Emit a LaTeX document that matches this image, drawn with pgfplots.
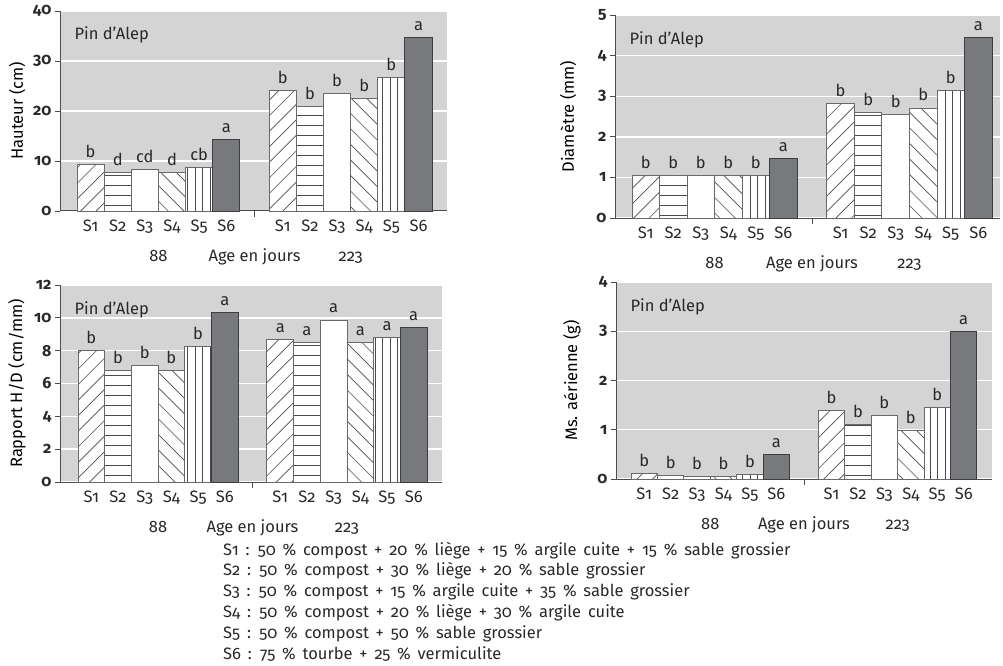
\documentclass[border=0pt]{standalone}
\usepackage{fontspec}
\setmainfont{Fira Sans}[Numbers=OldStyle]
\usepackage{pgfplots}
\pgfplotsset{compat=1.18}
\usetikzlibrary{patterns.meta}

\definecolor{bggray}{RGB}{212,212,213}
\definecolor{darkbar}{RGB}{120,121,125}
\definecolor{darkedge}{RGB}{62,62,64}
\definecolor{baredge}{RGB}{105,105,105}
\definecolor{hatch}{RGB}{75,75,75}
\definecolor{axisline}{RGB}{75,75,75}
\definecolor{ink}{RGB}{40,40,40}

\pgfplotsset{
  panel/.style={
    scale only axis, anchor=south west,
    ybar, bar width=1,
    ymin=0,
    axis x line*=bottom, axis y line*=left,
    axis line style={draw=axisline, line width=1pt},
    axis background/.style={fill=bggray},
    ymajorgrids, grid style={white, line width=1.4pt},
    tick align=outside, major tick length=5pt, minor tick length=6pt,
    xtick={1,2,3,4,5,6,8.08,9.08,10.08,11.08,12.08,13.08},
    xticklabels={S1,S2,S3,S4,S5,S6,S1,S2,S3,S4,S5,S6},
    minor xtick={7.04},
    every major x tick/.append style={draw=none},
    every minor x tick/.append style={draw=axisline, line width=0.8pt},
    ytick style={draw=axisline, line width=0.8pt},
    yticklabel style={font=\fontsize{16}{19}\selectfont\bfseries, text=ink},
    xticklabel style={text=ink},
    /pgf/number format/assume math mode=true,
    point meta=explicit symbolic,
    nodes near coords,
    nodes near coords style={text=ink, yshift=3pt},
    clip=false,
    ylabel style={text=ink},
  },
  s1/.style={fill=white, draw=baredge, line width=0.9pt, bar shift=0pt,
    postaction={pattern={Lines[angle=45,distance=11pt,line width=0.65pt]}, pattern color=hatch}},
  s2/.style={fill=white, draw=baredge, line width=0.9pt, bar shift=0pt,
    postaction={pattern={Lines[angle=0,distance=10pt,line width=0.65pt]}, pattern color=hatch}},
  s3/.style={fill=white, draw=baredge, line width=0.9pt, bar shift=0pt},
  s4/.style={fill=white, draw=baredge, line width=0.9pt, bar shift=0pt,
    postaction={pattern={Lines[angle=-45,distance=11pt,line width=0.65pt]}, pattern color=hatch}},
  s5/.style={fill=white, draw=baredge, line width=0.9pt, bar shift=0pt,
    postaction={pattern={Lines[angle=90,distance=7.5pt,line width=0.65pt]}, pattern color=hatch}},
  s6/.style={fill=darkbar, draw=darkedge, line width=0.9pt, bar shift=0pt},
}

% group captions under each panel
\newcommand{\agecaption}{%
  \node[anchor=base, text=ink] at (axis cs:3.5,0) [yshift=-50pt] {88};
  \node[anchor=base, text=ink] at (axis cs:7.04,0) [yshift=-50pt] {Age en jours};
  \node[anchor=base, text=ink] at (axis cs:10.58,0) [yshift=-50pt] {223};
  \node[anchor=base west, text=ink] at (rel axis cs:0,1) [xshift=11pt, yshift=-29pt] {Pin d’Alep};
}

\begin{document}
\begin{tikzpicture}[font=\fontsize{16.5}{20}\selectfont, x=1pt, y=1pt]
\path[use as bounding box] (0,0) rectangle (1003,665);

% Hauteur
\begin{axis}[panel, at={(60pt,454pt)}, width=387pt, height=200pt,
  xmin=-0.125, xmax=14.13, ymax=40, ytick={0,10,20,30,40},
  ylabel={Hauteur (cm)},
  every axis y label/.style={at={(axis description cs:-0.111,0.5)}, rotate=90, anchor=center}]
\addplot[s1] coordinates {(1,9.3)[b] (8.08,24.1)[b]};
\addplot[s2] coordinates {(2,7.7)[d] (9.08,20.9)[b]};
\addplot[s3] coordinates {(3,8.3)[cd] (10.08,23.5)[b]};
\addplot[s4] coordinates {(4,7.7)[d] (11.08,22.5)[b]};
\addplot[s5] coordinates {(5,8.7)[cb] (12.08,26.7)[b]};
\addplot[s6] coordinates {(6,14.3)[a] (13.08,34.7)[a]};
\agecaption
\end{axis}

% Diametre
\begin{axis}[panel, at={(615pt,447pt)}, width=385pt, height=203pt,
  xmin=-0.118, xmax=13.87, ymax=5, ytick={0,1,2,3,4,5},
  ylabel={Diamètre (mm)},
  every axis y label/.style={at={(axis description cs:-0.122,0.5)}, rotate=90, anchor=center}]
\addplot[s1] coordinates {(1,1.05)[b] (8.08,2.83)[b]};
\addplot[s2] coordinates {(2,1.05)[b] (9.08,2.60)[b]};
\addplot[s3] coordinates {(3,1.05)[b] (10.08,2.54)[b]};
\addplot[s4] coordinates {(4,1.05)[b] (11.08,2.71)[b]};
\addplot[s5] coordinates {(5,1.05)[b] (12.08,3.15)[b]};
\addplot[s6] coordinates {(6,1.47)[a] (13.08,4.44)[a]};
\agecaption
\end{axis}

% Rapport H/D
\begin{axis}[panel, at={(60pt,183pt)}, width=382pt, height=197pt,
  xmin=-0.174, xmax=14.14, ymax=12, ytick={0,2,4,6,8,10,12},
  ylabel={Rapport H/D (cm/mm)},
  every axis y label/.style={at={(axis description cs:-0.113,0.5)}, rotate=90, anchor=center}]
\addplot[s1] coordinates {(1,8.03)[b] (8.08,8.66)[a]};
\addplot[s2] coordinates {(2,6.8)[b] (9.08,8.5)[a]};
\addplot[s3] coordinates {(3,7.12)[b] (10.08,9.87)[a]};
\addplot[s4] coordinates {(4,6.8)[b] (11.08,8.5)[a]};
\addplot[s5] coordinates {(5,8.24)[b] (12.08,8.79)[a]};
\addplot[s6] coordinates {(6,10.35)[a] (13.08,9.42)[a]};
\agecaption
\end{axis}

% Ms. aerienne
\begin{axis}[panel, at={(616pt,186pt)}, width=376pt, height=197pt,
  xmin=-0.066, xmax=14.15, ymax=4, ytick={0,1,2,3,4},
  ylabel={Ms. aérienne (g)},
  every axis y label/.style={at={(axis description cs:-0.117,0.5)}, rotate=90, anchor=center}]
\addplot[s1] coordinates {(1,0.12)[b] (8.08,1.39)[b]};
\addplot[s2] coordinates {(2,0.07)[b] (9.08,1.11)[b]};
\addplot[s3] coordinates {(3,0.06)[b] (10.08,1.29)[b]};
\addplot[s4] coordinates {(4,0.06)[b] (11.08,0.99)[b]};
\addplot[s5] coordinates {(5,0.09)[b] (12.08,1.46)[b]};
\addplot[s6] coordinates {(6,0.49)[a] (13.08,3.0)[a]};
\agecaption
\end{axis}

% substrate composition key
\begin{scope}[every node/.style={anchor=base west, text=ink, inner sep=0pt,
    execute at begin node={\spaceskip=6.8pt\relax}}]
\node at (223,110) {S1 : 50 \% compost + 20 \% liège + 15 \% argile cuite + 15 \% sable grossier};
\node at (223,89.2) {S2 : 50 \% compost + 30 \% liège + 20 \% sable grossier};
\node at (223,68.4) {S3 : 50 \% compost + 15 \% argile cuite + 35 \% sable grossier};
\node at (223,47.6) {S4 : 50 \% compost + 20 \% liège + 30 \% argile cuite};
\node at (223,26.8) {S5 : 50 \% compost + 50 \% sable grossier};
\node at (223,6) {S6 : 75 \% tourbe + 25 \% vermiculite};
\end{scope}
\end{tikzpicture}
\end{document}
